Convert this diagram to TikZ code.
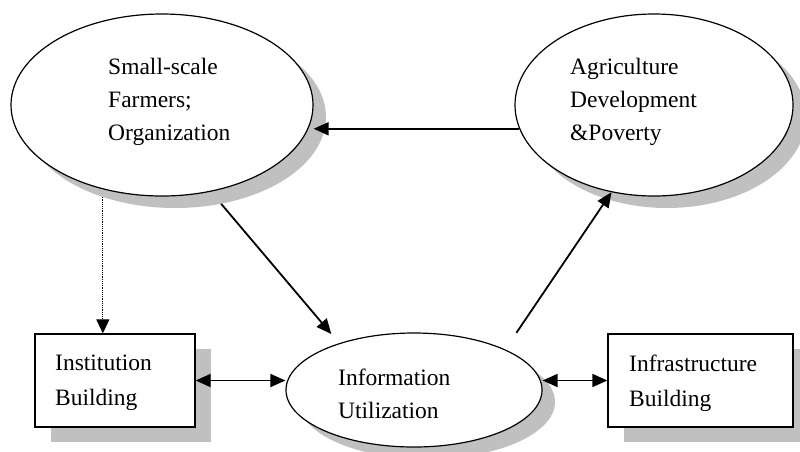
\documentclass[tikz,border=0pt]{standalone}
\usepackage{fontspec}
\setmainfont{Liberation Serif}
\usetikzlibrary{arrows.meta,calc,shapes.geometric}
\definecolor{shadowgray}{RGB}{192,192,192}
\begin{document}
\begin{tikzpicture}[x=1pt,y=-1pt,
  ellshape/.style={ellipse, draw=black, line width=1.2pt, fill=white, inner sep=0pt},
  boxshape/.style={rectangle, draw=black, line width=1.3pt, fill=white, inner sep=0pt},
  ellshadow/.style={ellipse, fill=shadowgray, draw=none, inner sep=0pt},
  boxshadow/.style={rectangle, fill=shadowgray, draw=none, inner sep=0pt},
  txt/.style={anchor=north west, align=left, inner sep=0pt, font=\fontsize{23.5}{33}\selectfont},
  btxt/.style={anchor=north west, align=left, inner sep=0pt, font=\fontsize{23.5}{35}\selectfont},
  tip/.style={Triangle[length=15pt,width=13pt]},
  arr/.style={line width=1.8pt, -{Triangle[length=15pt,width=13pt]}},
  darr/.style={line width=1.8pt, {Triangle[length=15pt,width=13pt]}-{Triangle[length=15pt,width=13pt]}},
  dotarr/.style={line width=1.2pt, densely dotted, -{Triangle[length=14pt,width=13pt]}}
]
\useasboundingbox (0,0) rectangle (800,451);
% shadows
\node[ellshadow, minimum width=302pt, minimum height=182pt] (sfsh) at (175,117) {};
\node[ellshadow, minimum width=278pt, minimum height=182pt] (adsh) at (667,117) {};
\node[ellshadow, minimum width=256pt, minimum height=114pt] (iush) at (427,402) {};
\node[boxshadow, minimum width=160pt, minimum height=93pt] (ibsh) at (131,395.5) {};
\node[boxshadow, minimum width=185pt, minimum height=93pt] (infsh) at (716.5,395.5) {};
% main shapes
\node[ellshape, minimum width=302pt, minimum height=182pt] (sf) at (162,105) {};
\node[ellshape, minimum width=278pt, minimum height=182pt] (ad) at (654,105) {};
\node[ellshape, minimum width=256pt, minimum height=114pt] (iu) at (414,390) {};
\node[boxshape, minimum width=160pt, minimum height=93pt] (ib) at (115,380.5) {};
\node[boxshape, minimum width=185pt, minimum height=93pt] (inf) at (700.5,380.5) {};
% texts
\node[txt] (sft) at (108,58) {Small-scale\\Farmers;\\Organization};
\node[txt] (adt) at (570,58) {Agriculture\\Development\\\&Poverty};
\node[txt] (iut) at (338,369) {Information\\Utilization};
\node[btxt] (ibt) at (55,355) {Institution\\Building};
\node[btxt] (inft) at (629,355) {Infrastructure\\Building};
% connectors
\draw[arr] (ad.190) -- (ad.190 -| sf.east);
\draw[arr, shorten >=12pt] (sfsh.-62) -- (iu.148);
\draw[arr, shorten <=20pt] (iu.24) -- (ad.-116);
\draw[dotarr] (sfsh.-132) -- (sfsh.-132 |- ib.north);
\draw[darr] (ib.east) -- (ib.east -| iu.west);
\draw[darr] (inf.west) -- (inf.west -| iu.east);
\end{tikzpicture}
\end{document}
